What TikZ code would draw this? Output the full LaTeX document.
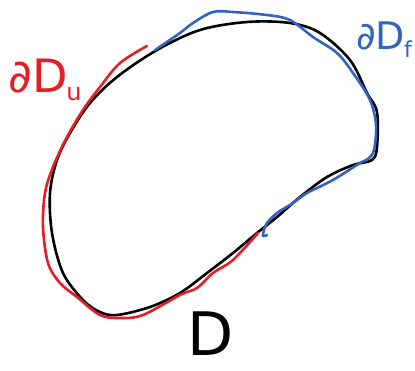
\documentclass[tikz,border=0pt]{standalone}
\usepackage{fontspec}
\setmainfont{DejaVu Sans}
\begin{document}
\begin{tikzpicture}[x=1pt,y=-1pt,
  curve/.style={line width=2.6pt,line cap=round,line join=round},
  lbl/.style={inner sep=0pt,anchor=center}]
\definecolor{sred}{RGB}{232,28,36}
\definecolor{sblue}{RGB}{50,100,190}
\useasboundingbox (0,0) rectangle (415,370);
% black domain boundary
\draw[curve,black] plot[smooth cycle,tension=0.55] coordinates {
 (157,50) (200,30) (247,22) (290,23) (320,33) (350,60) (367,93) (377,112)
 (377,147) (372,160) (353,165) (327,177) (300,197) (277,217) (257,233)
 (233,253) (207,273) (180,293) (150,307) (117,315) (100,312) (83,300)
 (63,273) (52,233) (50,193) (57,160) (70,133) (90,103) (117,77)};
% red part
\draw[curve,sred] plot[smooth,tension=0.55] coordinates {
 (147,46) (120,63) (100,87) (83,110) (67,137) (53,167) (45,193) (43,227)
 (48,263) (60,283) (77,297) (100,315) (120,318) (143,315) (180,295)
 (197,288) (213,273) (233,260) (258,233)};
% blue part
\draw[curve,sblue] plot[smooth,tension=0.55] coordinates {
 (155,50) (180,33) (193,23) (213,12) (233,12) (267,15) (290,20) (313,37)
 (337,53) (353,73) (370,100) (376,125) (374,150) (368,159) (360,163)
 (333,180) (307,193) (293,203) (277,213) (267,223) (264,230) (263,236) (267,235)};
\node[lbl,text=sred,font=\fontsize{46}{46}\selectfont] (du) at (45,80) {∂D\kern-1pt\raisebox{-8pt}{\fontsize{24}{24}\selectfont u}};
\node[lbl,text=sblue,font=\fontsize{38}{38}\selectfont] (df) at (384,40) {∂D\kern-1pt\raisebox{-8pt}{\fontsize{22}{22}\selectfont f}};
\node[lbl,text=black,font=\fontsize{60}{60}\selectfont] (d) at (211,334) {D};
\end{tikzpicture}
\end{document}
